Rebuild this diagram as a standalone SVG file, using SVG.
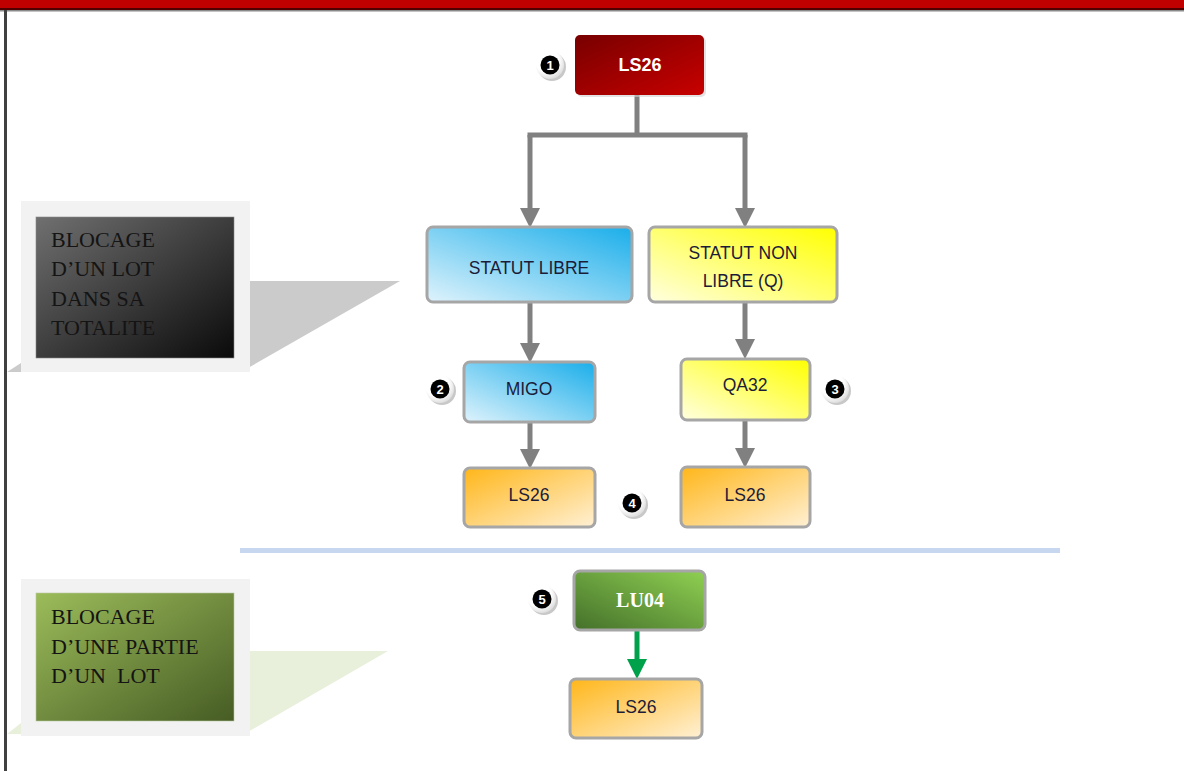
<svg xmlns="http://www.w3.org/2000/svg" width="1184" height="771" viewBox="0 0 1184 771">
<defs>
<linearGradient id="gRed" x1="0" y1="0" x2="1" y2="1"><stop offset="0" stop-color="#780000"/><stop offset="1" stop-color="#c80000"/></linearGradient>
<linearGradient id="gBlue" x1="0" y1="1" x2="1" y2="0"><stop offset="0" stop-color="#dff3fc"/><stop offset="1" stop-color="#1aaeea"/></linearGradient>
<linearGradient id="gYellow" x1="0" y1="1" x2="1" y2="0"><stop offset="0" stop-color="#ffffe0"/><stop offset="1" stop-color="#ffff00"/></linearGradient>
<linearGradient id="gOrange" x1="0" y1="0" x2="1" y2="1"><stop offset="0" stop-color="#ffb619"/><stop offset="1" stop-color="#fff0d4"/></linearGradient>
<linearGradient id="gGreen" x1="0" y1="1" x2="1" y2="0"><stop offset="0" stop-color="#44702a"/><stop offset="1" stop-color="#8fd052"/></linearGradient>
<linearGradient id="gDark" x1="0" y1="0" x2="1" y2="1"><stop offset="0" stop-color="#707070"/><stop offset="1" stop-color="#0a0a0a"/></linearGradient>
<linearGradient id="gOlive" x1="0" y1="0" x2="1" y2="1"><stop offset="0" stop-color="#9cbc5a"/><stop offset="1" stop-color="#465c24"/></linearGradient>
<radialGradient id="gBadge" cx="0.4" cy="0.35" r="0.7"><stop offset="0.6" stop-color="#ffffff"/><stop offset="1" stop-color="#d8d8d8"/></radialGradient>
<marker id="ahGray" viewBox="0 0 20 20" refX="0" refY="10" markerWidth="20" markerHeight="20" markerUnits="userSpaceOnUse" orient="auto"><path d="M0,0 L20,10 L0,20 Z" fill="#808080"/></marker>
<marker id="ahGreen" viewBox="0 0 20 20" refX="0" refY="10" markerWidth="20" markerHeight="20" markerUnits="userSpaceOnUse" orient="auto"><path d="M0,0 L20,10 L0,20 Z" fill="#00a14b"/></marker>
<style>
.node{stroke:#a6a6a6;stroke-width:3}
.lbl{font-family:"Liberation Sans",Arial,sans-serif;font-size:17.5px;fill:#1c1c38;text-anchor:middle}
.cap{font-family:"Liberation Serif","Times New Roman",serif;font-size:22px;fill:#141414}
.conn{fill:none;stroke:#808080;stroke-width:5}
.bnum{font-family:"Liberation Sans",Arial,sans-serif;font-weight:bold;font-size:13px;fill:#ffffff;text-anchor:middle}
</style>
</defs>
<rect x="0" y="0" width="1184" height="771" fill="#ffffff"/>
<!-- frame -->
<rect x="0" y="0" width="1184" height="8" fill="#c00000"/>
<rect x="0" y="8" width="1184" height="2" fill="#500000"/>
<rect x="0" y="10" width="1184" height="1.5" fill="#8a8a8a"/>
<rect x="4" y="10" width="3" height="761" fill="#404040"/>

<!-- callouts -->
<g id="callout1">
<polygon points="7,372 21,363 60,330 60,281 400,281 241,372" fill="#cbcbcb"/>
<rect x="21" y="201" width="229" height="171" fill="#f2f2f2"/>
<rect x="36" y="217" width="198" height="141" fill="url(#gDark)" stroke="#888" stroke-width="0.6"/>
<text class="cap" x="51" y="247">BLOCAGE</text>
<text class="cap" x="51" y="276">D’UN LOT</text>
<text class="cap" x="51" y="306">DANS SA</text>
<text class="cap" x="51" y="335">TOTALITE</text>
</g>
<g id="callout2">
<polygon points="7,734 21,723 60,700 60,651 388,651 241,736" fill="#e8f0dc"/>
<rect x="21" y="579" width="229" height="157" fill="#f2f2f2"/>
<rect x="36" y="593" width="198" height="128" fill="url(#gOlive)" stroke="#b8c8a0" stroke-width="0.6"/>
<text class="cap" x="51" y="624">BLOCAGE</text>
<text class="cap" x="51" y="654">D’UNE PARTIE</text>
<text class="cap" x="51" y="683" xml:space="preserve">D’UN  LOT</text>
</g>

<!-- separator -->
<rect id="separator" x="240" y="548" width="820" height="5" fill="#c6d7ef"/>

<!-- connectors -->
<g id="connectors">
<path class="conn" d="M637,95 V135 M527.5,135 H747.5"/>
<path class="conn" d="M530,135 V208" marker-end="url(#ahGray)"/>
<path class="conn" d="M745,135 V208" marker-end="url(#ahGray)"/>
<path class="conn" d="M530,302 V343" marker-end="url(#ahGray)"/>
<path class="conn" d="M745,302 V339" marker-end="url(#ahGray)"/>
<path class="conn" d="M530,422 V449" marker-end="url(#ahGray)"/>
<path class="conn" d="M745,420 V448" marker-end="url(#ahGray)"/>
<path d="M637,630 V659" fill="none" stroke="#00a14b" stroke-width="5" marker-end="url(#ahGreen)"/>
</g>

<!-- nodes -->
<g id="n-ls26-top">
<rect x="577" y="37" width="129" height="60" rx="5" fill="#d0d0d0" opacity="0.6"/>
<rect x="575" y="35" width="129" height="60" rx="5" fill="url(#gRed)"/>
<text x="640" y="71" font-family="Liberation Sans,Arial,sans-serif" font-weight="bold" font-size="18" fill="#ffffff" text-anchor="middle">LS26</text>
</g>
<g id="n-statut-libre">
<rect class="node" x="427" y="227" width="205" height="75" rx="6" fill="url(#gBlue)"/>
<text class="lbl" x="529" y="274">STATUT LIBRE</text>
</g>
<g id="n-statut-non-libre">
<rect class="node" x="649" y="227" width="188" height="75" rx="6" fill="url(#gYellow)"/>
<text class="lbl" x="743" y="259">STATUT NON</text>
<text class="lbl" x="743" y="287">LIBRE (Q)</text>
</g>
<g id="n-migo">
<rect class="node" x="464" y="362" width="131" height="60" rx="6" fill="url(#gBlue)"/>
<text class="lbl" x="529" y="395">MIGO</text>
</g>
<g id="n-qa32">
<rect class="node" x="681" y="359" width="129" height="61" rx="6" fill="url(#gYellow)"/>
<text class="lbl" x="745" y="391">QA32</text>
</g>
<g id="n-ls26-left">
<rect class="node" x="464" y="468" width="131" height="59" rx="6" fill="url(#gOrange)"/>
<text class="lbl" x="529" y="501">LS26</text>
</g>
<g id="n-ls26-right">
<rect class="node" x="681" y="467" width="129" height="60" rx="6" fill="url(#gOrange)"/>
<text class="lbl" x="745" y="501">LS26</text>
</g>
<g id="n-lu04">
<rect class="node" x="574" y="571" width="131" height="59" rx="6" fill="url(#gGreen)"/>
<text x="640" y="607" font-family="Liberation Serif,'Times New Roman',serif" font-weight="bold" font-size="20" fill="#ffffff" text-anchor="middle">LU04</text>
</g>
<g id="n-ls26-bottom">
<rect class="node" x="570" y="679" width="132" height="59" rx="6" fill="url(#gOrange)"/>
<text class="lbl" x="636" y="713">LS26</text>
</g>

<!-- badges -->
<g id="badge1">
<circle cx="552" cy="67" r="14" fill="#c8c8c8"/>
<circle cx="550" cy="65" r="14" fill="url(#gBadge)"/>
<circle cx="550" cy="65" r="9.5" fill="#000"/>
<text class="bnum" x="550" y="69.5">1</text>
</g>
<g id="badge2">
<circle cx="442" cy="391" r="14" fill="#c8c8c8"/>
<circle cx="440" cy="389" r="14" fill="url(#gBadge)"/>
<circle cx="440" cy="389" r="9.5" fill="#000"/>
<text class="bnum" x="440" y="393.5">2</text>
</g>
<g id="badge3">
<circle cx="837" cy="391" r="14" fill="#c8c8c8"/>
<circle cx="835" cy="389" r="14" fill="url(#gBadge)"/>
<circle cx="835" cy="389" r="9.5" fill="#000"/>
<text class="bnum" x="835" y="393.5">3</text>
</g>
<g id="badge4">
<circle cx="634" cy="505" r="14" fill="#c8c8c8"/>
<circle cx="632" cy="503" r="14" fill="url(#gBadge)"/>
<circle cx="632" cy="503" r="9.5" fill="#000"/>
<text class="bnum" x="632" y="507.5">4</text>
</g>
<g id="badge5">
<circle cx="544" cy="601" r="14" fill="#c8c8c8"/>
<circle cx="542" cy="599" r="14" fill="url(#gBadge)"/>
<circle cx="542" cy="599" r="9.5" fill="#000"/>
<text class="bnum" x="542" y="603.5">5</text>
</g>
</svg>
